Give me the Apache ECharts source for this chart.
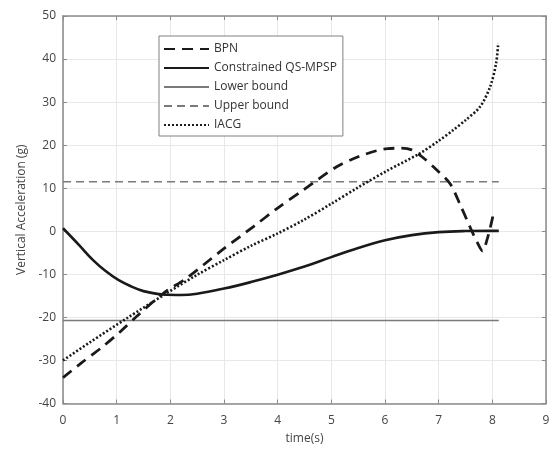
<!DOCTYPE html>
<html>
<head>
<meta charset="utf-8">
<script src="https://cdn.jsdelivr.net/npm/echarts@6/dist/echarts.min.js"></script>
<style>
html,body{margin:0;padding:0;background:#fff;}
#c{width:553px;height:451px;}
</style>
</head>
<body>
<div id="c"></div>
<script>
var xTicks = [0,1,2,3,4,5,6,7,8,9];
var yTicks = [-40,-30,-20,-10,0,10,20,30,40,50];

var bpnT = [0,0.35,0.7,1.05,1.37,1.87,2.3,2.95,3.55,4.0,4.48,5.1,5.5,5.84,6.05,6.3,6.5,6.7,6.95,7.21,7.4,7.58,7.72,7.82,7.9,7.96,8.02];
var bpnV = [-34,-30.5,-27.2,-23.5,-19.8,-14.4,-10.9,-4.5,1.1,5.4,9.6,15,17.3,18.7,19.2,19.3,18.9,17.2,14.4,11.1,6.2,1.1,-2.6,-4.6,-2.0,0.8,4.0];

var qsT = [0,0.3,0.56,0.8,1.03,1.27,1.5,1.87,2.2,2.5,3.0,3.5,4.0,4.5,5.0,5.5,6.0,6.5,7.0,7.5,8.0,8.12];
var qsV = [0.7,-3.2,-6.7,-9.3,-11.3,-12.8,-13.9,-14.7,-14.8,-14.5,-13.3,-11.8,-10.1,-8.2,-6.0,-3.9,-2.1,-0.9,-0.2,0.05,0.1,0.1];

var iacgT = [0,0.5,1.19,1.93,2.5,3.0,3.5,4.0,4.48,5.0,5.5,6.06,6.65,7.0,7.27,7.5,7.77,7.96,8.07,8.11];
var iacgV = [-30,-25.8,-20.2,-14.4,-10.1,-6.7,-3.4,-0.5,2.6,6.4,10.2,14.2,18.1,21,23.5,25.8,28.9,33.6,39,43.7];

var lowerT = [0,8.12];
var lowerV = [-20.7,-20.7];
var upperT = [0,8.12];
var upperV = [11.5,11.5];

var names = ['BPN','Constrained QS-MPSP','Lower bound','Upper bound','IACG'];

function pairs(t,v){ return t.map(function(x,i){ return [x, v[i]]; }); }

var FONT = 'Open Sans';
var axisCol = '#8a8a8a';
var chart = echarts.init(document.getElementById('c'), null, {renderer:'canvas'});
chart.setOption({
  animation:false,
  backgroundColor:'#fff',
  textStyle:{fontFamily:FONT},
  grid:{left:63,right:7,top:16,bottom:47.5},
  legend:{
    data:names,
    orient:'vertical',
    left:159, top:36,
    itemWidth:45, itemHeight:14, itemGap:7,
    padding:[7,6,5,4],
    borderColor:'#808080', borderWidth:1, borderRadius:0,
    backgroundColor:'#fff',
    itemStyle:{opacity:0, borderWidth:0},
    textStyle:{fontFamily:FONT,fontSize:12,color:'#333'}
  },
  xAxis:[{
    type:'value', min:xTicks[0], max:xTicks[xTicks.length-1], interval:1,
    name:'time(s)', nameLocation:'middle', nameGap:29,
    nameTextStyle:{fontFamily:FONT,fontSize:12,color:'#444'},
    axisLine:{onZero:false,lineStyle:{color:axisCol,width:1.5}},
    axisTick:{inside:true,length:4,lineStyle:{color:axisCol}},
    axisLabel:{fontFamily:FONT,fontSize:12,color:'#444',margin:11},
    splitLine:{show:true,lineStyle:{color:'#e8e8e8',width:1}}
  },{
    type:'value', position:'top', min:xTicks[0], max:xTicks[xTicks.length-1], interval:1,
    axisLine:{onZero:false,lineStyle:{color:axisCol,width:1.5}},
    axisTick:{inside:true,length:4,lineStyle:{color:axisCol}},
    axisLabel:{show:false}, splitLine:{show:false}
  }],
  yAxis:[{
    type:'value', min:yTicks[0], max:yTicks[yTicks.length-1], interval:10,
    name:'Vertical Acceleration (g)', nameLocation:'middle', nameGap:35,
    nameTextStyle:{fontFamily:FONT,fontSize:12,color:'#444'},
    axisLine:{show:true,onZero:false,lineStyle:{color:axisCol,width:1.5}},
    axisTick:{show:true,inside:true,length:4,lineStyle:{color:axisCol}},
    axisLabel:{fontFamily:FONT,fontSize:12,color:'#444',margin:7},
    splitLine:{show:true,lineStyle:{color:'#e8e8e8',width:1}}
  },{
    type:'value', position:'right', min:yTicks[0], max:yTicks[yTicks.length-1], interval:10,
    axisLine:{show:true,onZero:false,lineStyle:{color:axisCol,width:1.5}},
    axisTick:{show:true,inside:true,length:4,lineStyle:{color:axisCol}},
    axisLabel:{show:false}, splitLine:{show:false}
  }],
  series:[
    {name:names[0],type:'line',data:pairs(bpnT,bpnV),symbol:'none',smooth:0.3,
      lineStyle:{color:'#1a1a1a',width:2.8,type:[11,7]},itemStyle:{color:'#1a1a1a'},z:5},
    {name:names[1],type:'line',data:pairs(qsT,qsV),symbol:'none',smooth:0.4,
      lineStyle:{color:'#1a1a1a',width:2.6,type:'solid'},itemStyle:{color:'#1a1a1a'},z:5},
    {name:names[2],type:'line',data:pairs(lowerT,lowerV),symbol:'none',
      lineStyle:{color:'#7a7a7a',width:1.5,type:'solid'},itemStyle:{color:'#7a7a7a'},z:4},
    {name:names[3],type:'line',data:pairs(upperT,upperV),symbol:'none',
      lineStyle:{color:'#7a7a7a',width:1.5,type:[8,5]},itemStyle:{color:'#7a7a7a'},z:4},
    {name:names[4],type:'line',data:pairs(iacgT,iacgV),symbol:'none',smooth:0.3,
      lineStyle:{color:'#1a1a1a',width:2.6,type:[2,2]},itemStyle:{color:'#1a1a1a'},z:5}
  ]
});
</script>
</body>
</html>
